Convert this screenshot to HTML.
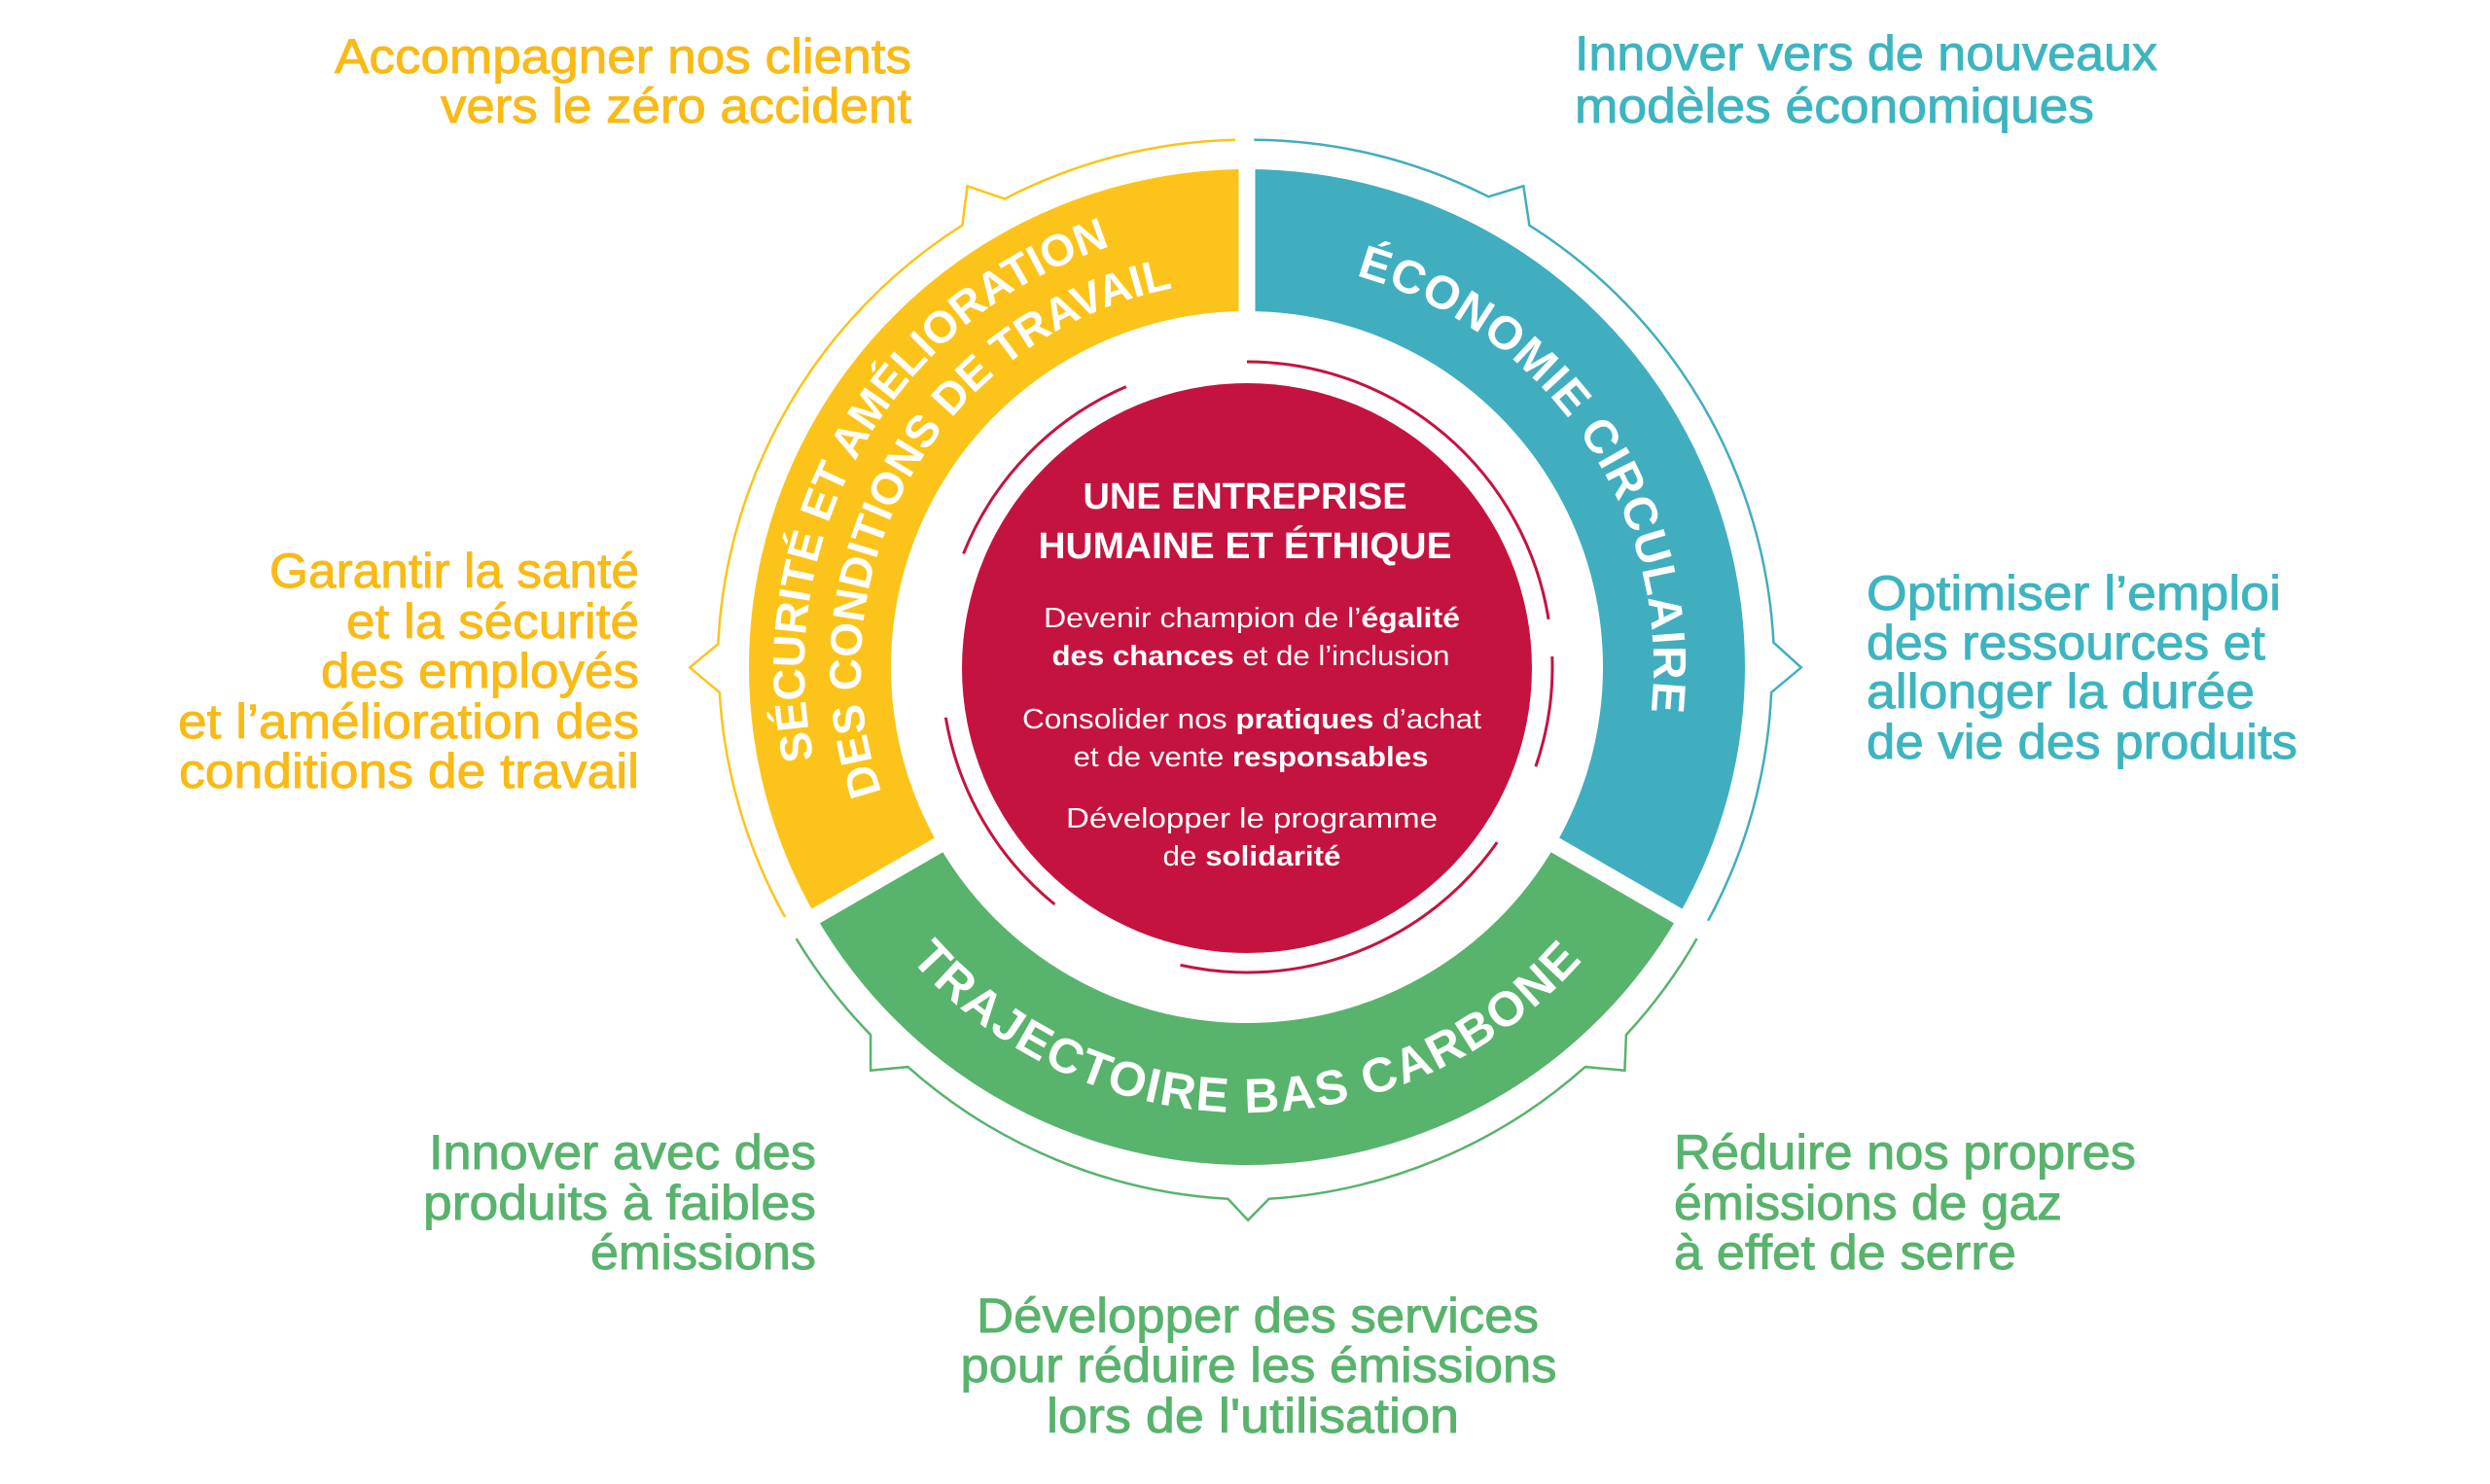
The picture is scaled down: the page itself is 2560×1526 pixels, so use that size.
<!DOCTYPE html>
<html><head><meta charset="utf-8"><style>
html,body{margin:0;padding:0;background:#fff;}
svg{display:block;}
.lab{font-family:"Liberation Sans",sans-serif;font-size:50px;stroke-width:0.9px;}
.y{fill:#F9BA16;stroke:#F9BA16;}
.c{fill:#3DB5C0;stroke:#3DB5C0;}
.g{fill:#58B36C;stroke:#58B36C;}
.ring{font-family:"Liberation Sans",sans-serif;font-weight:bold;fill:#fff;}
.ct{font-family:"Liberation Sans",sans-serif;fill:#fff;}
</style></head><body>
<svg width="2560" height="1526" viewBox="0 0 2560 1526" xmlns="http://www.w3.org/2000/svg">
<defs>
<path id="pc" d="M1354.6,274.4 A418,418 0 0 1 1690.9,772.9"/>
<path id="pyo" d="M854.4,841.6 A455,455 0 0 1 1203.0,237.9"/>
<path id="pyi" d="M922.2,853.8 A397,397 0 0 1 1247.4,290.5"/>
<path id="pg" d="M906.8,948.7 A458,458 0 0 0 1657.2,948.7"/>
</defs>

<!-- segments -->
<path d="M1282,174 A512,512 0 0 1 1725.4,942 L1599,869 A366,366 0 0 0 1282,320 Z" fill="#40AEBF"/>
<path d="M1725.4,942 A512,512 0 0 1 838.6,942 L965,869 A366,366 0 0 0 1599,869 Z" fill="#58B36C"/>
<path d="M838.6,942 A512,512 0 0 1 1282,174 L1282,320 A366,366 0 0 0 965,869 Z" fill="#FCC41A"/>
<g stroke="#fff" stroke-width="17">
<line x1="1282" y1="326" x2="1282" y2="160"/>
<line x1="1593.8" y1="866" x2="1732.3" y2="946"/>
<line x1="970.2" y1="866" x2="831.7" y2="946"/>
</g>

<!-- outer thin rings -->
<g fill="none" stroke-width="2.5" stroke-linejoin="miter">
<path stroke="#40AEBF" d="M1289.3,143.7 A541,541 0 0 1 1530.3,202.3 L1566.3,191.3 L1572.4,231.7 A541,541 0 0 1 1823.4,660.7 L1851.8,686.4 L1821.1,712.1 A541,541 0 0 1 1756.1,946.8"/>
<path stroke="#FCC41A" d="M1270.1,143.7 A541,541 0 0 0 1032.9,204.5 L994.6,191.3 L989.3,231.7 A541,541 0 0 0 738.3,662.2 L709.2,686.4 L739.8,712.1 A541,541 0 0 0 807.1,943.1"/>
<path stroke="#58B36C" d="M818.6,965.1 A541,541 0 0 0 895.1,1064.1 L895.1,1100.8 L933.4,1097.1 A541,541 0 0 0 1262.5,1232.8 L1283.1,1254.8 L1304.6,1232.8 A541,541 0 0 0 1629.8,1097.1 L1670.4,1100.8 L1671.9,1064.1 A541,541 0 0 0 1744.6,965.1"/>
</g>

<!-- red circle and arcs -->
<circle cx="1282" cy="687" r="293" fill="#C5133F"/>
<g fill="none" stroke="#C5133F" stroke-width="3">
<path d="M1282,372 A314,314 0 0 1 1592.1,636.9"/>
<path d="M1595.8,675 A314,314 0 0 1 1578.9,788.2"/>
<path d="M1539.2,866.1 A314,314 0 0 1 1213.5,992.4"/>
<path d="M1084.4,930 A314,314 0 0 1 972.3,737.8"/>
<path d="M990.5,569.4 A314,314 0 0 1 1157.8,397.6"/>
</g>

<!-- ring texts -->
<text class="ring" font-size="48" letter-spacing="1"><textPath href="#pc" startOffset="50%" text-anchor="middle">ÉCONOMIE CIRCULAIRE</textPath></text>
<text class="ring" font-size="46"><textPath href="#pyo" startOffset="50%" text-anchor="middle">SÉCURITÉ ET AMÉLIORATION</textPath></text>
<text class="ring" font-size="46"><textPath href="#pyi" startOffset="50%" text-anchor="middle">DES CONDITIONS DE TRAVAIL</textPath></text>
<text class="ring" font-size="50" letter-spacing="2"><textPath href="#pg" startOffset="50%" text-anchor="middle">TRAJECTOIRE BAS CARBONE</textPath></text>

<!-- center texts -->
<g class="ct" text-anchor="middle">
<text x="1280" y="523" font-size="38" font-weight="bold" textLength="333" lengthAdjust="spacingAndGlyphs">UNE ENTREPRISE</text>
<text x="1280" y="574" font-size="38" font-weight="bold" textLength="425" lengthAdjust="spacingAndGlyphs">HUMAINE ET ÉTHIQUE</text>
<text x="1287" y="645" font-size="29" textLength="428" lengthAdjust="spacingAndGlyphs">Devenir champion de l’<tspan font-weight="bold">égalité</tspan></text>
<text x="1286" y="684" font-size="29" textLength="409" lengthAdjust="spacingAndGlyphs"><tspan font-weight="bold">des chances</tspan> et de l’inclusion</text>
<text x="1287" y="749" font-size="29" textLength="472" lengthAdjust="spacingAndGlyphs">Consolider nos <tspan font-weight="bold">pratiques</tspan> d’achat</text>
<text x="1286" y="788" font-size="29" textLength="365" lengthAdjust="spacingAndGlyphs">et de vente <tspan font-weight="bold">responsables</tspan></text>
<text x="1287" y="851" font-size="29" textLength="382" lengthAdjust="spacingAndGlyphs">Développer le programme</text>
<text x="1287" y="890" font-size="29" textLength="183" lengthAdjust="spacingAndGlyphs">de <tspan font-weight="bold">solidarité</tspan></text>
</g>

<!-- outer labels -->
<g class="lab y" text-anchor="end">
<text x="937" y="75" textLength="593" lengthAdjust="spacingAndGlyphs">Accompagner nos clients</text>
<text x="937" y="126" textLength="484" lengthAdjust="spacingAndGlyphs">vers le zéro accident</text>
<text x="657" y="604" textLength="380" lengthAdjust="spacingAndGlyphs">Garantir la santé</text>
<text x="657" y="656" textLength="301" lengthAdjust="spacingAndGlyphs">et la sécurité</text>
<text x="657" y="707" textLength="327" lengthAdjust="spacingAndGlyphs">des employés</text>
<text x="657" y="759" textLength="474" lengthAdjust="spacingAndGlyphs">et l’amélioration des</text>
<text x="657" y="810" textLength="473" lengthAdjust="spacingAndGlyphs">conditions de travail</text>
</g>
<g class="lab c">
<text x="1619" y="72" textLength="599" lengthAdjust="spacingAndGlyphs">Innover vers de nouveaux</text>
<text x="1619" y="126" textLength="534" lengthAdjust="spacingAndGlyphs">modèles économiques</text>
<text x="1919" y="627" textLength="426" lengthAdjust="spacingAndGlyphs">Optimiser l’emploi</text>
<text x="1919" y="678" textLength="410" lengthAdjust="spacingAndGlyphs">des ressources et</text>
<text x="1919" y="728" textLength="399" lengthAdjust="spacingAndGlyphs">allonger la durée</text>
<text x="1919" y="780" textLength="443" lengthAdjust="spacingAndGlyphs">de vie des produits</text>
</g>
<g class="lab g" text-anchor="end">
<text x="839" y="1202" textLength="398" lengthAdjust="spacingAndGlyphs">Innover avec des</text>
<text x="839" y="1254" textLength="404" lengthAdjust="spacingAndGlyphs">produits à faibles</text>
<text x="839" y="1305" textLength="232" lengthAdjust="spacingAndGlyphs">émissions</text>
</g>
<g class="lab g">
<text x="1721" y="1202" textLength="475" lengthAdjust="spacingAndGlyphs">Réduire nos propres</text>
<text x="1721" y="1254" textLength="399" lengthAdjust="spacingAndGlyphs">émissions de gaz</text>
<text x="1721" y="1305" textLength="352" lengthAdjust="spacingAndGlyphs">à effet de serre</text>
</g>
<g class="lab g" text-anchor="middle">
<text x="1293" y="1370" textLength="578" lengthAdjust="spacingAndGlyphs">Développer des services</text>
<text x="1294" y="1421" textLength="613" lengthAdjust="spacingAndGlyphs">pour réduire les émissions</text>
<text x="1288" y="1473" textLength="424" lengthAdjust="spacingAndGlyphs">lors de l'utilisation</text>
</g>
</svg>
</body></html>
